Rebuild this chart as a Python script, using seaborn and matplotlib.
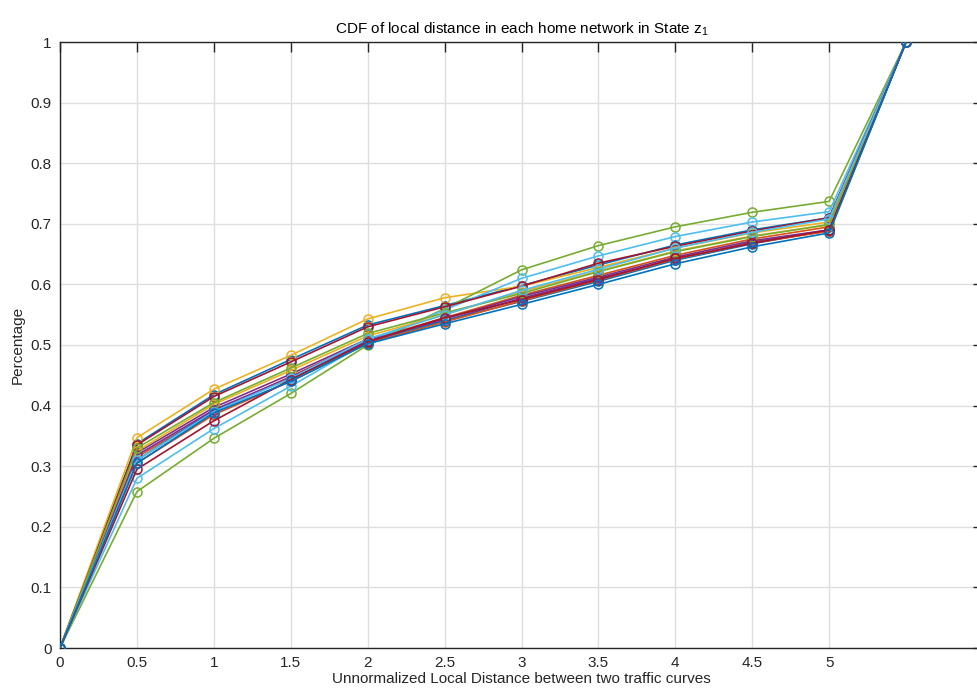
import numpy as np
import pandas as pd
import matplotlib
matplotlib.use("Agg")
import matplotlib.pyplot as plt
import seaborn as sns

# x positions (unnormalized local distance)
x_vals = [0, 0.5, 1, 1.5, 2, 2.5, 3, 3.5, 4, 4.5, 5, 5.5]

# one CDF per home network (inner values)
s01 = [0, 0.337, 0.418, 0.476, 0.533, 0.565, 0.598, 0.632, 0.665, 0.690, 0.710, 1]
s02 = [0, 0.315, 0.390, 0.448, 0.508, 0.545, 0.582, 0.615, 0.648, 0.675, 0.695, 1]
s03 = [0, 0.347, 0.427, 0.483, 0.543, 0.578, 0.597, 0.628, 0.660, 0.685, 0.703, 1]
s04 = [0, 0.322, 0.397, 0.452, 0.510, 0.540, 0.577, 0.610, 0.641, 0.670, 0.688, 1]
s05 = [0, 0.258, 0.346, 0.420, 0.500, 0.560, 0.624, 0.664, 0.695, 0.719, 0.737, 1]
s06 = [0, 0.280, 0.362, 0.432, 0.505, 0.558, 0.610, 0.647, 0.679, 0.703, 0.720, 1]
s07 = [0, 0.335, 0.415, 0.472, 0.530, 0.563, 0.597, 0.635, 0.663, 0.688, 0.710, 1]
s08 = [0, 0.310, 0.392, 0.445, 0.505, 0.540, 0.572, 0.605, 0.640, 0.667, 0.690, 1]
s09 = [0, 0.305, 0.385, 0.440, 0.503, 0.538, 0.573, 0.607, 0.642, 0.668, 0.688, 1]
s10 = [0, 0.325, 0.402, 0.458, 0.515, 0.550, 0.588, 0.622, 0.655, 0.680, 0.698, 1]
s11 = [0, 0.318, 0.393, 0.447, 0.507, 0.543, 0.580, 0.612, 0.645, 0.672, 0.690, 1]
s12 = [0, 0.330, 0.405, 0.462, 0.519, 0.553, 0.585, 0.621, 0.654, 0.679, 0.699, 1]
s13 = [0, 0.310, 0.390, 0.445, 0.510, 0.550, 0.590, 0.625, 0.660, 0.686, 0.708, 1]
s14 = [0, 0.295, 0.375, 0.443, 0.505, 0.545, 0.575, 0.608, 0.643, 0.668, 0.690, 1]
s15 = [0, 0.305, 0.388, 0.440, 0.502, 0.535, 0.567, 0.600, 0.634, 0.662, 0.685, 1]
series = [s01, s02, s03, s04, s05, s06, s07, s08, s09, s10, s11, s12, s13, s14, s15]

x_ticks = [0, 0.5, 1, 1.5, 2, 2.5, 3, 3.5, 4, 4.5, 5]
x_tick_labels = ["0", "0.5", "1", "1.5", "2", "2.5", "3", "3.5", "4", "4.5", "5"]
y_ticks = [0, 0.1, 0.2, 0.3, 0.4, 0.5, 0.6, 0.7, 0.8, 0.9, 1]
y_tick_labels = ["0", "0.1", "0.2", "0.3", "0.4", "0.5", "0.6", "0.7", "0.8", "0.9", "1"]

matlab_colors = ["#0072BD", "#D95319", "#EDB120", "#7E2F8E", "#77AC30", "#4DBEEE", "#A2142F"]

sns.set_style("white")
plt.rcParams["font.family"] = ["Liberation Sans", "DejaVu Sans"]

fig = plt.figure(figsize=(9.77, 6.93), dpi=100)
ax = fig.add_axes([60 / 977, 1 - 648 / 693, (983 - 60) / 977, (648 - 42) / 693])

rows = []
for i, s in enumerate(series):
    for xv, yv in zip(x_vals, s):
        rows.append({"x": xv, "y": yv, "net": f"n{i+1:02d}"})
df = pd.DataFrame(rows)

for i, s in enumerate(series):
    sub = df[df["net"] == f"n{i+1:02d}"]
    c = matlab_colors[i % 7]
    sns.lineplot(data=sub, x="x", y="y", ax=ax, color=c,
                 linewidth=1.2, marker="o", markersize=6.5, markerfacecolor="none",
                 markeredgecolor=c, markeredgewidth=1.1,
                 sort=False, estimator=None, legend=False, zorder=3)

ax.set_xlim(0, 6)
ax.set_ylim(0, 1)
ax.set_xticks(x_ticks)
ax.set_xticklabels(x_tick_labels)
ax.set_yticks(y_ticks)
ax.set_yticklabels(y_tick_labels)
ax.grid(True, color="#dedede", linewidth=1.0)
ax.set_axisbelow(True)
for sp in ax.spines.values():
    sp.set_visible(True)
    sp.set_color("#262626")
    sp.set_linewidth(1.0)
ax.tick_params(direction="in", length=7, width=1.0, color="#262626",
               labelsize=11, labelcolor="#262626", top=True, right=True, pad=6)

ax.set_xlabel("Unnormalized Local Distance between two traffic curves", fontsize=11,
              color="#262626", labelpad=1)
ax.set_ylabel("Percentage", fontsize=11, color="#262626", labelpad=4)
ax.set_title(r"CDF of local distance in each home network in State $\mathregular{z_1}$",
             fontsize=11, color="#000000", pad=6)

fig.savefig("out.png", dpi=100)
